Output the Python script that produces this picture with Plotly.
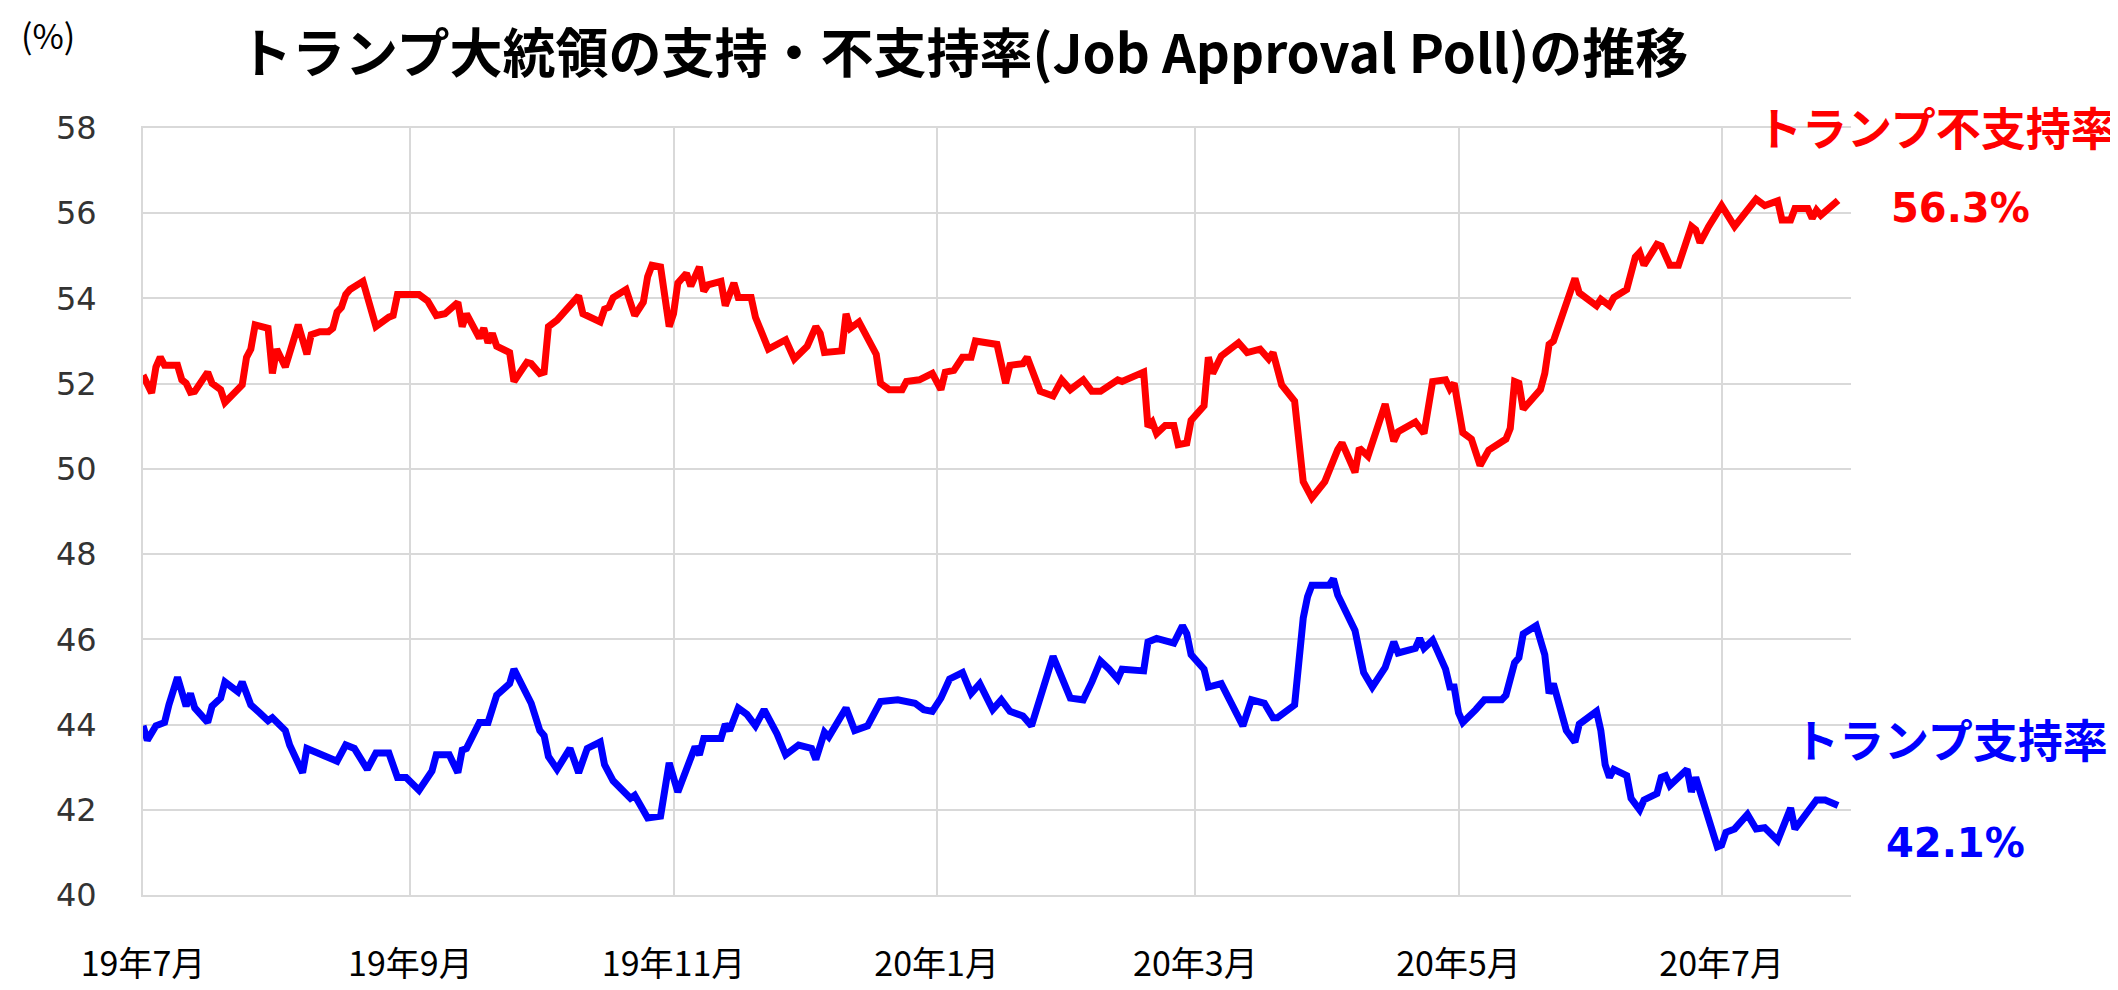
import pandas as pd
import plotly.graph_objects as go

# ---- data ----
start_date = "2019-07-01"

red_days = [0, 2, 3, 4, 5, 8, 9, 10, 11, 12, 15, 16, 18, 19, 23, 24, 25, 26, 29, 30,
            31, 33, 36, 38, 39, 41, 43, 44, 45, 46, 47, 48, 51, 54, 57, 58, 59, 64, 66, 68,
            70, 73, 74, 75, 78, 79, 80, 81, 82, 85, 86, 89, 90, 92, 93, 94, 96, 101, 102, 106,
            107, 108, 109, 112, 114, 116, 117, 118, 120, 122, 123, 124, 126, 127, 129, 130, 131, 134, 135, 137,
            138, 141, 142, 145, 149, 151, 154, 156, 157, 158, 162, 163, 164, 166, 170, 171, 173, 176, 177, 180,
            183, 185, 186, 188, 190, 192, 193, 198, 200, 201, 204, 205, 208, 211, 213, 215, 218, 220, 222, 226,
            227, 230, 232, 233, 234, 235, 237, 239, 240, 242, 243, 246, 247, 248, 250, 254, 256, 259, 261, 262,
            264, 267, 268, 269, 271, 274, 277, 278, 281, 282, 284, 288, 290, 291, 295, 297, 299, 302, 303, 304,
            306, 308, 310, 312, 316, 317, 318, 319, 320, 324, 325, 326, 327, 332, 333, 337, 338, 340, 341, 344,
            346, 347, 348, 351, 352, 354, 356, 359, 360, 361, 363, 366, 369, 374, 376, 379, 380, 382, 383, 386,
            387, 388, 389, 390, 393]
red_vals = [52.2, 51.78, 52.39, 52.62, 52.43, 52.43, 52.09, 52.01, 51.8, 51.82, 52.27, 52.01, 51.86, 51.56, 51.97, 52.62, 52.81, 53.38, 53.3, 52.24,
            52.81, 52.39, 53.38, 52.69, 53.15, 53.22, 53.22, 53.3, 53.68, 53.79, 54.09, 54.21, 54.4, 53.34, 53.56, 53.6, 54.09, 54.09, 53.94, 53.6,
            53.64, 53.91, 53.34, 53.64, 53.07, 53.3, 52.96, 53.18, 52.88, 52.73, 52.05, 52.5, 52.47, 52.24, 52.27, 53.34, 53.49, 54.06, 53.64, 53.45,
            53.75, 53.79, 54.02, 54.21, 53.6, 53.91, 54.51, 54.78, 54.74, 53.34, 53.64, 54.36, 54.59, 54.29, 54.74, 54.17, 54.32, 54.4, 53.83, 54.36,
            54.02, 54.02, 53.56, 52.81, 53.03, 52.58, 52.88, 53.34, 53.18, 52.73, 52.77, 53.64, 53.3, 53.45, 52.69, 52.01, 51.86, 51.86, 52.05, 52.09,
            52.24, 51.86, 52.27, 52.31, 52.62, 52.62, 53.0, 52.92, 52.01, 52.43, 52.47, 52.62, 51.82, 51.71, 52.09, 51.86, 52.09, 51.82, 51.82, 52.09,
            52.05, 52.16, 52.27, 50.99, 51.1, 50.83, 51.02, 51.02, 50.57, 50.61, 51.14, 51.48, 52.62, 52.24, 52.65, 52.96, 52.73, 52.81, 52.58, 52.73,
            51.97, 51.59, 50.57, 49.7, 49.32, 49.7, 50.45, 50.61, 49.92, 50.49, 50.3, 51.52, 50.65, 50.87, 51.1, 50.83, 52.05, 52.09, 51.88, 52.01,
            50.85, 50.7, 50.08, 50.44, 50.7, 50.95, 52.05, 52.01, 51.4, 51.86, 52.24, 52.92, 53.0, 54.47, 54.13, 53.83, 53.98, 53.83, 54.02, 54.21,
            54.97, 55.08, 54.78, 55.27, 55.23, 54.78, 54.78, 55.69, 55.61, 55.31, 55.69, 56.18, 55.69, 56.33, 56.18, 56.29, 55.84, 55.84, 56.11, 56.11,
            55.88, 56.07, 55.95, 56.03, 56.3]

blue_days = [0, 1, 3, 5, 6, 8, 10, 11, 12, 15, 16, 18, 19, 22, 23, 25, 27, 29, 30, 33,
             34, 37, 38, 42, 45, 47, 49, 52, 54, 57, 59, 61, 64, 67, 68, 71, 73, 74, 75, 78,
             80, 82, 84, 85, 86, 88, 89, 90, 92, 93, 94, 96, 99, 101, 103, 106, 107, 109, 113, 114,
             117, 120, 122, 124, 128, 129, 130, 134, 135, 136, 138, 140, 142, 144, 147, 149, 152, 155, 156, 158,
             159, 163, 165, 168, 171, 175, 179, 181, 183, 185, 187, 190, 192, 194, 197, 199, 201, 204, 206, 211,
             215, 218, 220, 222, 224, 226, 227, 232, 233, 235, 239, 241, 242, 243, 246, 247, 250, 252, 254, 255,
             257, 260, 262, 263, 267, 268, 269, 270, 271, 275, 276, 277, 281, 283, 285, 288, 290, 291, 295, 296,
             297, 299, 302, 303, 304, 305, 306, 309, 311, 315, 316, 318, 319, 320, 323, 325, 326, 327, 330, 332,
             333, 337, 338, 339, 340, 341, 344, 345, 347, 348, 351, 352, 353, 354, 358, 359, 360, 365, 366, 367,
             369, 372, 374, 376, 379, 382, 383, 386, 388, 390, 393]
blue_vals = [43.97, 43.63, 43.97, 44.05, 44.46, 45.11, 44.43, 44.73, 44.39, 44.05, 44.43, 44.62, 45.0, 44.77, 45.0, 44.46, 44.28, 44.09, 44.16, 43.86,
             43.52, 42.87, 43.44, 43.29, 43.14, 43.52, 43.44, 42.95, 43.33, 43.33, 42.76, 42.76, 42.46, 42.91, 43.29, 43.29, 42.87, 43.4, 43.44, 44.05,
             44.05, 44.69, 44.84, 44.96, 45.3, 44.92, 44.65, 44.5, 43.86, 43.74, 43.25, 42.95, 43.44, 42.87, 43.44, 43.59, 43.06, 42.68, 42.27, 42.34,
             41.81, 41.85, 43.1, 42.42, 43.48, 43.29, 43.67, 43.67, 44.01, 43.86, 44.39, 44.24, 43.97, 44.35, 43.78, 43.29, 43.52, 43.44, 43.18, 43.82,
             43.71, 44.39, 43.86, 43.97, 44.54, 44.58, 44.5, 44.35, 44.31, 44.62, 45.07, 45.22, 44.73, 44.96, 44.35, 44.58, 44.31, 44.2, 43.97, 45.6,
             44.62, 44.58, 45.0, 45.49, 45.3, 45.07, 45.3, 45.26, 45.94, 46.02, 45.91, 46.32, 46.13, 45.64, 45.3, 44.88, 44.96, 44.58, 44.2, 43.97,
             44.58, 44.5, 44.16, 44.16, 44.46, 45.5, 46.5, 47.0, 47.27, 47.27, 47.42, 47.04, 46.21, 45.22, 44.88, 45.34, 45.94, 45.68, 45.79, 46.02,
             45.79, 45.98, 45.3, 44.88, 44.88, 44.28, 44.05, 44.35, 44.58, 44.58, 44.69, 45.45, 45.57, 46.13, 46.32, 45.64, 44.73, 44.96, 43.86, 43.59,
             44.01, 44.31, 43.86, 43.06, 42.76, 42.95, 42.8, 42.27, 42.0, 42.23, 42.38, 42.76, 42.8, 42.57, 42.95, 42.42, 42.76, 41.13, 41.17, 41.47,
             41.55, 41.89, 41.55, 41.58, 41.28, 42.04, 41.55, 41.96, 42.23, 42.23, 42.1]

tick_dates = ["2019-07-01", "2019-09-01", "2019-11-01", "2020-01-01", "2020-03-01", "2020-05-01", "2020-07-01"]
tick_labels = ["19年7月", "19年9月", "19年11月", "20年1月", "20年3月", "20年5月", "20年7月"]
y_ticks = [40, 42, 44, 46, 48, 50, 52, 54, 56, 58]

title_text = "トランプ大統領の支持・不支持率(Job Approval Poll)の推移"
red_name = "トランプ不支持率"
blue_name = "トランプ支持率"

# ---- build ----
t0 = pd.Timestamp(start_date)
red_x = [t0 + pd.Timedelta(days=d) for d in red_days]
blue_x = [t0 + pd.Timedelta(days=d) for d in blue_days]

RED = "#FF0000"
BLUE = "#0000FF"
GRID = "#d9d9d9"
CJK = "Noto Sans CJK JP"

PL, PR, PT, PB = 135, 1843, 120, 911
PW, PH = PR - PL, PB - PT


def px(xp):
    return (xp - PL) / PW


def py(yp):
    return (PB - yp) / PH


fig = go.Figure()
fig.add_trace(go.Scatter(x=red_x, y=red_vals, mode="lines", name=red_name,
                         line=dict(color=RED, width=7), showlegend=False))
fig.add_trace(go.Scatter(x=blue_x, y=blue_vals, mode="lines", name=blue_name,
                         line=dict(color=BLUE, width=7), showlegend=False))

fig.update_layout(
    width=2118, height=990,
    margin=dict(l=PL, r=2118 - PR, t=PT, b=990 - PB),
    paper_bgcolor="white", plot_bgcolor="white",
    xaxis=dict(type="date", range=[start_date, "2020-07-31"],
               tickvals=tick_dates, ticktext=tick_labels,
               showgrid=True, gridcolor=GRID, gridwidth=2,
               showline=True, linecolor=GRID, linewidth=2, mirror=True,
               ticks="", ticklabelstandoff=38,
               tickfont=dict(family=CJK, size=34, color="black")),
    yaxis=dict(range=[40, 58], tickvals=y_ticks,
               showgrid=True, gridcolor=GRID, gridwidth=2,
               showline=True, linecolor=GRID, linewidth=2,
               zeroline=False, ticks="", ticklabelstandoff=38,
               tickfont=dict(family="DejaVu Sans", size=32, color="#333333")),
)

fig.add_annotation(text="<b>" + title_text + "</b>", xref="paper", yref="paper",
                   x=px(955), y=py(40), xanchor="center", yanchor="middle",
                   showarrow=False, font=dict(family=CJK, size=53, color="black"))

fig.add_annotation(text="(%)", xref="paper", yref="paper",
                   x=px(40), y=py(24), xanchor="center", yanchor="middle",
                   showarrow=False, font=dict(family=CJK, size=34, color="black"))

fig.add_annotation(text="<b>" + red_name + "</b>", xref="paper", yref="paper",
                   x=px(1928), y=py(118),
                   xanchor="center", yanchor="middle", showarrow=False,
                   font=dict(family=CJK, size=45, color=RED))
fig.add_annotation(text="<b>" + blue_name + "</b>", xref="paper", yref="paper",
                   x=px(1943), y=py(750),
                   xanchor="center", yanchor="middle", showarrow=False,
                   font=dict(family=CJK, size=45, color=BLUE))

fig.add_annotation(text="<b>%.1f%%</b>" % red_vals[-1], x=red_x[-1], y=red_vals[-1],
                   xref="x", yref="y", xshift=122, yshift=-8,
                   xanchor="center", yanchor="middle", showarrow=False,
                   font=dict(family="DejaVu Sans", size=40, color=RED))
fig.add_annotation(text="<b>%.1f%%</b>" % blue_vals[-1], x=blue_x[-1], y=blue_vals[-1],
                   xref="x", yref="y", xshift=117, yshift=-37,
                   xanchor="center", yanchor="middle", showarrow=False,
                   font=dict(family="DejaVu Sans", size=40, color=BLUE))

fig.write_html("out.html")
